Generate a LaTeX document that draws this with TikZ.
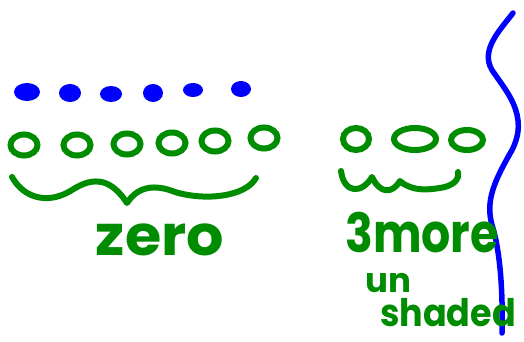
\documentclass[tikz,border=0pt]{standalone}
\usepackage{fontspec}
\setmainfont{Poppins}
\definecolor{pen}{RGB}{0,140,0}
\definecolor{ink}{RGB}{0,0,255}
\begin{document}
\begin{tikzpicture}[x=1pt,y=-1pt,
  dotmark/.style={fill=ink},
  ring/.style={draw=pen,line width=6pt},
  stroke/.style={draw=pen,line width=6pt,line cap=round,line join=round},
  scrawl/.style={text=pen,font=\bfseries,inner sep=0pt}]
 \useasboundingbox (0,0) rectangle (524,342);
 % filled dots
 \fill[dotmark] (27,92) ellipse (13 and 9);
 \fill[dotmark] (70,93) ellipse (11 and 9);
 \fill[dotmark] (111,94) ellipse (11 and 8);
 \fill[dotmark] (153,93) ellipse (10 and 9);
 \fill[dotmark] (193,90) ellipse (10 and 7);
 \fill[dotmark] (241,89) ellipse (10 and 8);
 % empty ones
 \foreach \x/\y in {24/145,77/145,127/144,172/143,215/141,264/138}
  \draw[ring] (\x,\y) ellipse (13.5 and 10.5);
 \draw[ring] (356,139) ellipse (13 and 11);
 \draw[ring] (415,139) ellipse (21 and 11);
 \draw[ring] (467,140) ellipse (16 and 10);
 % braces
 \draw[stroke] (12,177) .. controls (25,200) and (50,204) .. (72,190)
  .. controls (95,175) and (112,180) .. (127,203)
  .. controls (138,186) and (155,184) .. (175,192)
  .. controls (205,201) and (245,197) .. (256,178);
 \draw[stroke] (341,171) .. controls (344,194) and (362,194) .. (372,177)
  .. controls (380,194) and (392,194) .. (400,181)
  .. controls (412,192) and (430,190) .. (445,187)
  .. controls (455,184) and (460,178) .. (458,172);
 % divider
 \draw[ink,line width=5.5pt,line cap=round] (513,13) .. controls (500,30) and (480,50) .. (492,70)
  .. controls (505,90) and (530,115) .. (512,150)
  .. controls (495,180) and (485,200) .. (492,225)
  .. controls (500,250) and (503,290) .. (502,333);
 % words
 \node[scrawl,font=\bfseries\fontsize{56}{56}\selectfont,xscale=1.05] (zero) at (160,240) {zero};
 \node[scrawl,font=\bfseries\fontsize{54}{54}\selectfont,xscale=0.85] (more) at (422,233) {3more};
 \node[scrawl,font=\bfseries\fontsize{34}{34}\selectfont] (un) at (388,283) {un};
 \node[scrawl,font=\bfseries\fontsize{38}{38}\selectfont,xscale=0.92] (shaded) at (448,313) {shaded};
\end{tikzpicture}
\end{document}
